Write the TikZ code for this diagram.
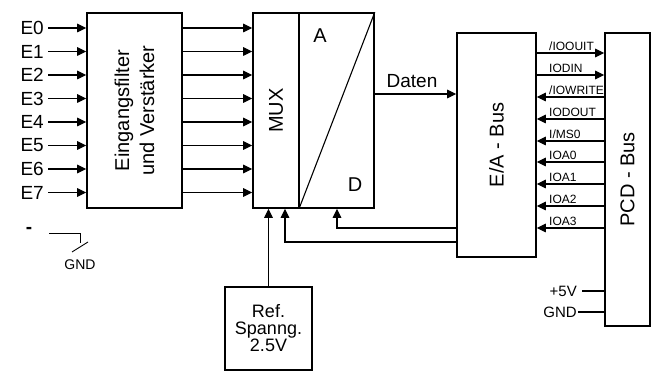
\documentclass[tikz,border=0pt]{standalone}
\usepackage{fontspec}
\setmainfont{Liberation Sans}
\usetikzlibrary{arrows.meta,positioning}

\begin{document}
\begin{tikzpicture}[
  x=1pt, y=-1pt,
  block/.style={draw, line width=1.6pt, inner sep=0pt},
  arrow/.style={-{Triangle[length=9pt,width=8.5pt]}, line width=1.1pt},
  wire/.style={line width=1.1pt},
  lbl/.style={font=\fontsize{19}{21}\selectfont, inner sep=1pt},
  big/.style={font=\fontsize{20}{25}\selectfont, inner sep=0pt},
  sig/.style={font=\fontsize{12}{13}\selectfont, inner sep=0pt, anchor=south west}
]
\useasboundingbox (0,0) rectangle (651,371);

% blocks
\node[block, minimum width=95pt, minimum height=195pt] (filt) at (134.5,110.5) {};
\node[block, minimum width=121pt, minimum height=195pt] (mux) at (313.5,110.5) {};
\node[block, minimum width=79pt, minimum height=224pt] (ea) at (496.5,145) {};
\node[block, minimum width=45pt, minimum height=293pt] (pcd) at (627.5,179.5) {};
\node[block, line width=1.3pt, minimum width=87pt, minimum height=83pt, align=center,
      font=\fontsize{18}{17}\selectfont] (ref) at (268.5,328.5) {Ref.\\Spanng.\\2.5V};

% block texts
\node[big, rotate=90, align=center] (filttxt) at (filt.center) {Eingangsfilter\\und Verstärker};
\node[big, rotate=90] (muxtxt) at (276,110.5) {MUX};
\node[big, rotate=90] (eatxt) at (ea.center) {E/A - Bus};
\node[big, rotate=90] (pcdtxt) at (pcd.center) {PCD - Bus};
\node[big] (atxt) at (320,36) {A};
\node[big] (dtxt) at (355,185) {D};

% MUX / A-D split
\coordinate (split) at (299,0);
\draw[wire] (mux.north -| split) -- (mux.south -| split);
\draw[wire] (mux.south -| split) -- (mux.north east);

% inputs
\foreach \i in {0,...,7} {
  \node[lbl, anchor=east] (e\i) at (45,{28+\i*23.5}) {E\i};
  \draw[arrow] (e\i.east) ++(3,0) -- (filt.west |- e\i);
  \draw[arrow] (filt.east |- e\i) -- (mux.west |- e\i);
}

% data
\draw[arrow] (mux.east |- 0,94) -- (ea.west |- 0,94);
\node[lbl, anchor=south] (daten) at (412,89) {Daten};

% bus signals
\foreach \y/\lab [count=\k] in {53/{/IOOUIT}, 75/IODIN, 97/{/IOWRITE}, 119/IODOUT,
                               141/{I/MS0}, 162/IOA0, 184/IOA1, 206/IOA2, 228/IOA3} {
  \node[sig] (s\k) at (549,{\y-2}) {\lab};
  \ifnum\k<3
    \draw[arrow] (ea.east |- 0,\y) -- (pcd.west |- 0,\y);
  \else
    \draw[arrow] (pcd.west |- 0,\y) -- (ea.east |- 0,\y);
  \fi
}

% supply
\node[lbl, font=\fontsize{15}{17}\selectfont, anchor=east] (vcc) at (578,291) {+5V};
\node[lbl, font=\fontsize{15}{17}\selectfont, anchor=east] (gnd) at (578,312) {GND};
\draw[wire] (vcc.east) ++(4,0) -- (pcd.west |- vcc);
\draw[wire] (gnd.east) -- (pcd.west |- gnd);

% control lines back to MUX and reference
\draw[arrow] (ea.west |- 0,228) -| (mux.south -| 337,0);
\draw[arrow] (ea.west |- 0,242) -| (mux.south -| 285,0);
\draw[arrow] (ref.north) -- (mux.south -| ref.north);

% ground of the minus input
\node[lbl, font=\bfseries\fontsize{19}{21}\selectfont] (minus) at (29,230) {-};
\coordinate (gsw) at (80,233);
\draw[wire, line width=0.9pt] (49,233) -- (gsw) -- ++(0,10);
\draw[wire, line width=0.9pt] (72,252) -- (88,242);
\node[lbl, font=\fontsize{14}{16}\selectfont] (gndl) at (80,265) {GND};
\end{tikzpicture}
\end{document}
